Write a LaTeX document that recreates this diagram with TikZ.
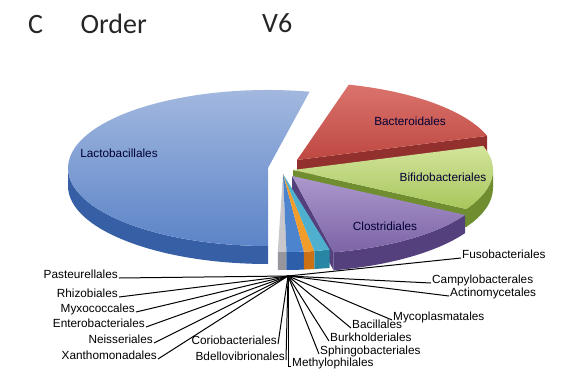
\documentclass[tikz,border=0pt]{standalone}
\usepackage{fontspec}
\setmainfont{Liberation Sans}
\newfontfamily\titlefont{Carlito}
\usetikzlibrary{positioning}

\definecolor{lactolight}{RGB}{165,186,224}
\definecolor{lactodark}{RGB}{92,132,200}
\definecolor{lactoside}{RGB}{55,95,165}
\definecolor{bactlight}{RGB}{218,115,108}
\definecolor{bactdark}{RGB}{190,72,66}
\definecolor{bactside}{RGB}{145,48,44}
\definecolor{bifilight}{RGB}{210,228,155}
\definecolor{bifidark}{RGB}{168,198,92}
\definecolor{bifiside}{RGB}{112,142,48}
\definecolor{closlight}{RGB}{172,152,204}
\definecolor{closdark}{RGB}{124,100,166}
\definecolor{closside}{RGB}{84,64,124}
\definecolor{cyanslice}{RGB}{78,176,206}
\definecolor{cyanside}{RGB}{38,134,164}
\definecolor{orangeslice}{RGB}{242,156,44}
\definecolor{orangeside}{RGB}{204,114,20}
\definecolor{blueslice}{RGB}{76,132,206}
\definecolor{blueside}{RGB}{44,94,170}
\definecolor{greyslice}{RGB}{200,200,204}
\definecolor{greyside}{RGB}{150,150,156}

% pie geometry
\def\rx{200}
\def\ry{78}
\def\dep{18}
% top face: centre x, centre y, start, end, style
\newcommand{\pietop}[5]{%
  \path[#5] (#1,#2) -- ++({\rx*cos(#3)},{\ry*sin(#3)})
    arc[start angle=#3, end angle=#4, x radius=\rx, y radius=\ry] -- cycle;}
% front rim: centre x, centre y, start, end, style
\newcommand{\pieside}[5]{%
  \path[#5] ({#1+\rx*cos(#3)},{#2+\ry*sin(#3)})
    arc[start angle=#3, end angle=#4, x radius=\rx, y radius=\ry] -- ++(0,-\dep)
    arc[start angle=#4, end angle=#3, x radius=\rx, y radius=\ry] -- cycle;}
% cut face: centre x, centre y, angle, style
\newcommand{\piecut}[4]{%
  \path[#4] (#1,#2) -- ++({\rx*cos(#3)},{\ry*sin(#3)}) -- ++(0,-\dep)
    -- ({#1},{#2-\dep}) -- cycle;}

\begin{document}
\begin{tikzpicture}[x=1pt, y=1pt,
  lbl/.style = {font=\fontsize{11.8}{13}\selectfont, inner sep=0pt},
  slicelbl/.style = {font=\fontsize{11.8}{13}\selectfont, text=black!80!blue, inner sep=0pt},
  leader/.style = {draw=black, line width=1pt},
  ttl/.style = {font=\titlefont\fontsize{28}{32}\selectfont, text=black!85, inner sep=0pt}
  ]
  \useasboundingbox (0,0) rectangle (562,368);

  % title
  \node[ttl, anchor=base west] (ttlc) at (28,335) {C};
  \node[ttl, base right=37pt of ttlc] (ttlorder) {Order};
  \node[ttl, anchor=base west] (ttlv) at (262,336) {V6};

  % Bacteroidales
  \piecut{297}{208}{18}{fill=bactside}
  \pietop{297}{208}{18}{75}{top color=bactlight, bottom color=bactdark}

  % Bifidobacteriales
  \pieside{293}{198}{-30}{0}{fill=bifiside}
  \piecut{293}{198}{-30}{fill=bifiside}
  \pietop{293}{198}{-30}{18}{top color=bifilight, bottom color=bifidark}

  % Lactobacillales
  \pieside{268}{200}{180}{270}{fill=lactoside}
  \pietop{268}{200}{78}{270}{top color=lactolight, bottom color=lactodark}

  % Clostridiales
  \pieside{292}{192}{-78}{-30}{fill=closside}
  \piecut{292}{192}{-78}{fill=closside}
  \pietop{292}{192}{-78}{-30}{top color=closlight, bottom color=closdark}

  % small orders
  \pieside{283}{194}{-91.5}{-89}{fill=greyside}
  \pieside{283}{194}{-89}{-84}{fill=blueside}
  \pieside{283}{194}{-84}{-81}{fill=orangeside}
  \pieside{283}{194}{-81}{-76.5}{fill=cyanside}
  \pietop{283}{194}{-91.5}{-89}{fill=greyslice}
  \pietop{283}{194}{-89}{-84}{fill=blueslice}
  \pietop{283}{194}{-84}{-81}{fill=orangeslice}
  \pietop{283}{194}{-81}{-76.5}{fill=cyanslice}

  % slice labels
  \node[slicelbl] (lacto) at (119,215) {Lactobacillales};
  \node[slicelbl] (bact) at (410,247) {Bacteroidales};
  \node[slicelbl] (bifi) at (443,191) {Bifidobacteriales};
  \node[slicelbl] (clos) at (385,142) {Clostridiales};

  % leader labels, left
  \coordinate (hub) at (288,92);
  \node[lbl, anchor=base east] (past) at (118,90) {Pasteurellales};
  \node[lbl, anchor=base east] (rhiz) at (118,71) {Rhizobiales};
  \node[lbl, anchor=base east] (myxo) at (135,56) {Myxococcales};
  \node[lbl, anchor=base east] (ente) at (145,41) {Enterobacteriales};
  \node[lbl, anchor=base east] (neis) at (153,25) {Neisseriales};
  \node[lbl, anchor=base east] (xant) at (157,9) {Xanthomonadales};
  \node[lbl, anchor=base east] (cori) at (277,24) {Coriobacteriales};
  \node[lbl, anchor=base east] (bdel) at (285,8) {Bdellovibrionales};
  % leader labels, right
  \node[lbl, anchor=base west] (fuso) at (462,110) {Fusobacteriales};
  \node[lbl, anchor=base west] (camp) at (432,85) {Campylobacterales};
  \node[lbl, anchor=base west] (acti) at (450,72) {Actinomycetales};
  \node[lbl, anchor=base west] (myco) at (393,48) {Mycoplasmatales};
  \node[lbl, anchor=base west] (baci) at (352,40) {Bacillales};
  \node[lbl, anchor=base west] (burk) at (330,27) {Burkholderiales};
  \node[lbl, anchor=base west] (sphi) at (320,14) {Sphingobacteriales};
  \node[lbl, anchor=base west] (meth) at (292,2) {Methylophilales};

  % leaders
  \foreach \n in {past,rhiz,myxo,ente,neis,xant,cori,bdel}
    \draw[leader] ([xshift=1pt]\n.base east) -- (hub);
  \foreach \n in {fuso,camp,acti,myco,baci,burk,sphi}
    \draw[leader] (hub) -- ([xshift=-1pt]\n.base west);
  \draw[leader] (hub) |- ([xshift=-1pt]meth.base west);

\end{tikzpicture}
\end{document}
